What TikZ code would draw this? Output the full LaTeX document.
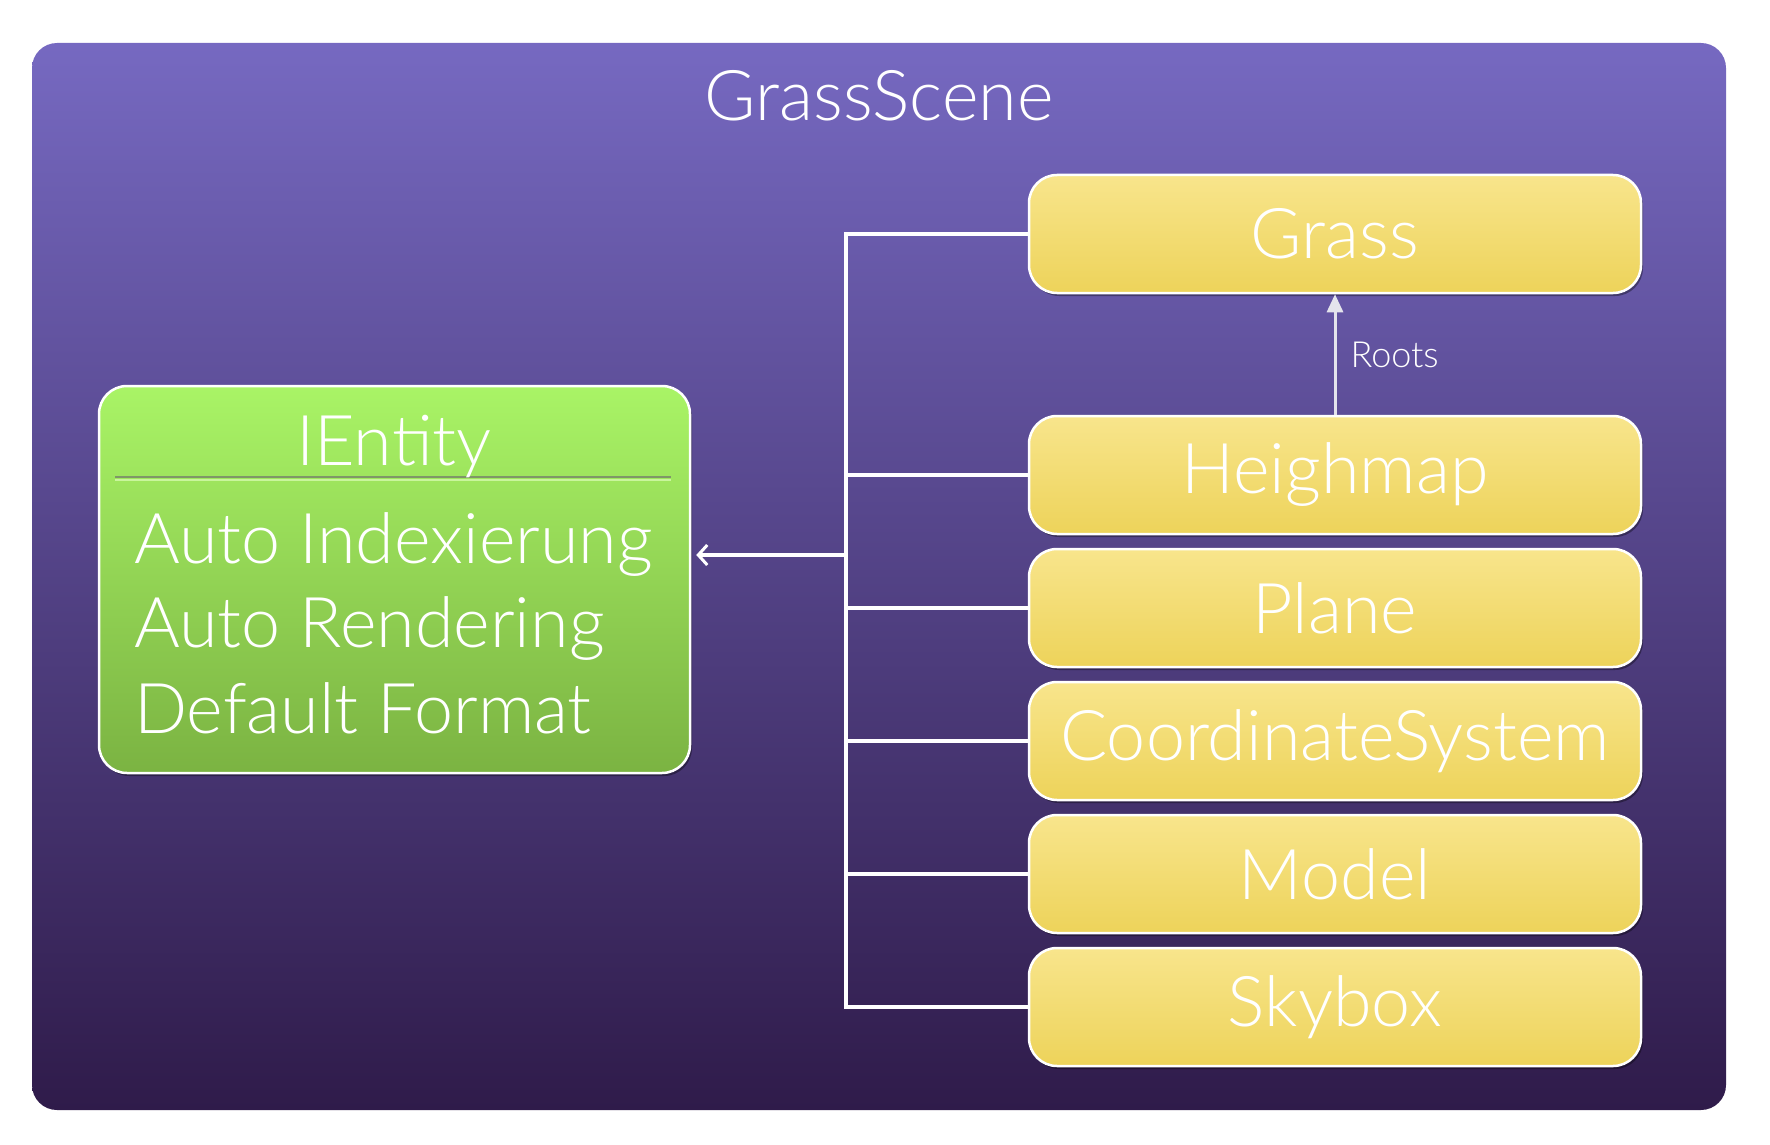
\documentclass[tikz,border=0pt]{standalone}
\usepackage{fontspec}
\IfFontExistsTF{Lato Light}{\setmainfont{Lato Light}}{\setmainfont{Lato}}
\usetikzlibrary{shadows,arrows.meta,calc}
\definecolor{bgtop}{HTML}{7669C1}
\definecolor{bgbot}{HTML}{2F1B4A}
\definecolor{yeltop}{HTML}{F8E58C}
\definecolor{yelbot}{HTML}{EDD35A}
\definecolor{grntop}{HTML}{A9F466}
\definecolor{grnbot}{HTML}{7BB342}
\definecolor{sepdark}{HTML}{7F9668}
\definecolor{seplight}{HTML}{C9F59C}
\definecolor{rootsgray}{HTML}{E4E4EC}
\tikzset{
  ybox/.style={rectangle, rounded corners=28pt, draw=white, line width=2.5pt,
    top color=yeltop, bottom color=yelbot, minimum width=612pt, minimum height=118pt,
    inner sep=0pt, text=white, font=\fontsize{70}{80}\selectfont,
    drop shadow={shadow xshift=2pt, shadow yshift=-3pt, opacity=0.35, fill=black}},
  gbox/.style={rectangle, rounded corners=28pt, draw=white, line width=2.5pt,
    top color=grntop, bottom color=grnbot, minimum width=591pt, minimum height=387pt,
    inner sep=0pt,
    drop shadow={shadow xshift=2pt, shadow yshift=-3pt, opacity=0.35, fill=black}},
  conn/.style={draw=white, line width=3.5pt},
  bigtext/.style={text=white, inner sep=0pt, font=\fontsize{70}{80}\selectfont},
}
\begin{document}
\begin{tikzpicture}[x=1pt, y=-1pt]
\useasboundingbox (0,0) rectangle (1770,1145);
% scene frame
\node[rectangle, rounded corners=25pt, top color=bgtop, bottom color=bgbot,
  minimum width=1694pt, minimum height=1067pt, inner sep=0pt] (scene) at (879,576.5) {};
\node[bigtext, anchor=base] (title) at (879,121) {GrassScene};
% yellow boxes
\node[ybox] (grass) at (1335,234) {Grass};
\node[ybox] (hm) at (1335,475) {Heighmap};
\node[ybox] (plane) at (1335,608) {Plane};
\node[ybox] (coord) at (1335,741) {CoordinateSystem};
\node[ybox] (model) at (1335,874) {Model};
\node[ybox] (sky) at (1335,1007) {Skybox};
% green box
\node[gbox] (ient) at (394.5,579.5) {};
\coordinate (sepL) at (115,477);
\coordinate (sepR) at (671,477);
\draw[sepdark, line width=2pt] (sepL) -- (sepR);
\draw[seplight, line width=2pt] ($(sepL)+(0,3)$) -- ($(sepR)+(0,3)$);
\node[bigtext, anchor=base] (ititle) at (394,465) {IEntity};
\node[bigtext, anchor=base west] (l1) at (134,563) {Auto Indexierung};
\node[bigtext, anchor=base west] (l2) at (134,647) {Auto Rendering};
\node[bigtext, anchor=base west] (l3) at (134,733) {Default Format};
% bus connectors
\coordinate (busTop) at (846,234);
\coordinate (busBot) at (846,1007);
\coordinate (busA) at (846,555);
\draw[conn] (grass.west) -- (busTop) -- (busBot) -- (sky.west);
\draw[conn] (hm.west -| busTop) -- (hm.west);
\draw[conn] (plane.west -| busTop) -- (plane.west);
\draw[conn] (coord.west -| busTop) -- (coord.west);
\draw[conn] (model.west -| busTop) -- (model.west);
\draw[conn, -{Straight Barb[length=9pt,width=20pt,line width=3pt]}] (busA) -- ([xshift=5pt]busA -| ient.east);
% roots
\draw[rootsgray, line width=3pt, -{Triangle[length=18pt,width=16pt]}] (hm.north) -- (grass.south)
  node[midway, right=14pt, text=white, inner sep=0pt, font=\fontsize{36}{40}\selectfont] (roots) {Roots};
\end{tikzpicture}
\end{document}
